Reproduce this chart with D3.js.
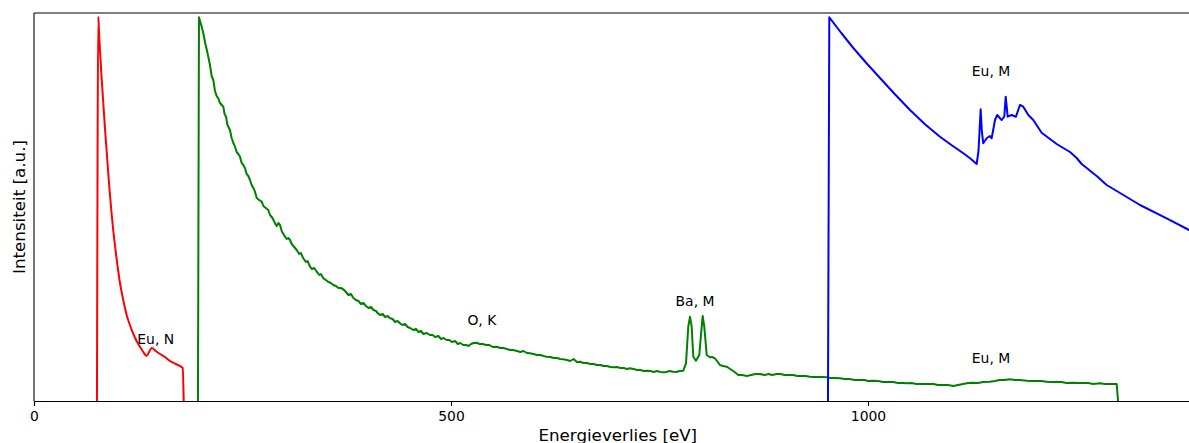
<!DOCTYPE html>
<html>
<head>
<meta charset="utf-8">
<script src="https://cdn.jsdelivr.net/npm/d3@7/dist/d3.min.js"></script>
<style>
  html, body { margin: 0; padding: 0; background: #fff; }
  svg { display: block; font-family: "DejaVu Sans", sans-serif; }
</style>
</head>
<body>
<svg id="chart" width="1189" height="443"></svg>
<script>
// ---- data (energy loss in eV, intensity in arbitrary units) ----
const xTicks = [0, 500, 1000];
const xLabel = "Energieverlies [eV]";
const yLabel = "Intensiteit [a.u.]";

const redSeries = [
  [75.5,0],[77.1,384.3],[78,368],[79.1,351],[81,324],[83.1,298],[85,274],[87.2,249],[89,228],[91.1,206],
  [93,188],[95.1,170],[97,156],[99.2,141],[101,130],[103.1,118],[107,101],[111.1,86],[115,76],
  [119.1,67],[123,60],[127.1,54],[131,49],[135.1,45],[138,49],[141.1,53],[146,50],[151.1,47],
  [157,44],[163.1,40],[170,37],[178.3,33],[179.5,0]
];

const greenSeries = [
  [196.6,0],[197.8,383.7],[200.5,376],[203.0,367.7],[205.5,357],[207,352],[209.0,344.3],[211,336],
  [213,325],[215.0,321],[217,310],[219,305],[221.0,302.7],[223,298],[225,296],[227.0,294.3],
  [228.5,287],[230.2,284.3],[232,276],[235.0,271],[237,263],[239,258],[241.0,254.3],[243,249],
  [245,247],[247.0,244.3],[249,238],[251,236],[253.0,232.7],[255,227],[257,225],[259.0,221],
  [261,216],[263,213],[265.0,209.3],[267,203],[270,201],[273.0,199.3],[275,195],[278,193],
  [280.9,191],[283,186],[286,183],[289.0,177.7],[291,175],[293,178],[295.0,176],[297,170],
  [299,167],[301.0,164.3],[303,162],[305,163],[307.0,161],[309,157],[312,154],[315.0,151],
  [318,147],[320,148],[322.9,142.7],[326,139],[328,140],[330.9,134.3],[333,132],[336,133],
  [339.0,129.3],[342,126],[344,127],[346.9,122.7],[350,121],[353,119],[356,118],[358.9,116],
  [362,115],[365,113],[368,113],[370.9,111.7],[374,109],[377,106],[380,107],[383,103],[386,101],
  [389,100],[392,97],[395,98],[398,95],[401,93],[404,94],[407,91],[410,90],[412,88],[414.9,86],
  [418,87],[421,84],[424,85],[426.9,82.7],[430,82],[433,79],[436,80],[438.8,77.7],[442,76],
  [445,77],[448,74],[451,73],[454.8,71],[458,72],[461,69],[464,70],[467,67],[471,68],[474.8,66],
  [478,66],[481,64],[485,65],[488,62],[491,63],[494.8,61],[498,61],[501,59],[505,60],[508,57],
  [511,58],[514.7,56],[518,56],[521,55],[524,57],[527,58],[530.8,58.3],[534,57],[538,57],
  [542,56],[546,56],[550,54],[554.8,54.3],[559,53],[563,53],[567,52],[571,51],[574.7,51],
  [579,50],[583,49],[587,50],[591,48],[594.7,47.7],[599,47],[603,46],[607,46],[611,45],
  [614.7,44.3],[619,44],[623,43],[627,43],[631,42],[634.6,41.7],[639,41],[643,40],[647,42],
  [651,39],[654.7,39.3],[659,38],[663,38],[667,37],[671,37],[674.7,36],[679,36],[683,35],
  [687,35],[691,34],[694.6,33.7],[699,34],[703,33],[707,33],[711,32],[714.6,32.7],[719,32],
  [723,31],[727,31],[731,30],[734.6,30.3],[739,30],[743,29],[747,30],[751,29],[754.6,28.7],
  [758,29],[762,30],[766.5,29.3],[770,29],[774,30],[778.5,30.3],[781.8,37.7],[784.5,74.3],
  [786.6,84.3],[788.6,74.3],[790.5,44.3],[793.7,40.3],[797.7,46],[800.6,74.3],[801.8,85],
  [803.7,74.3],[806.6,46],[810.5,43.7],[813,44],[816.5,42.7],[819,40],[822.5,36],[826,35],
  [830.6,34.3],[833,33],[836.5,31],[840,29],[844.5,26],[849,26],[854.5,25],[860,26],[865,27],
  [870.5,27],[876,26],[881,27],[885,26],[890.5,27],[895,27],[900,26],[905,26],[910.4,26],
  [915,25],[920,25],[925,25],[930.4,24.3],[935,24],[940,24],[945,24],[950.5,23.7],[955,23],
  [960,23],[966.4,22.7],[972,22],[978,22],[984,21],[990,21],[996,21],[1000,20],[1006.4,20.3],
  [1012,20],[1018,19],[1024,19],[1030,19],[1036,18],[1042,18],[1046.4,17.7],[1052,18],[1058,17],
  [1064,17],[1070,17],[1078.3,17],[1084,16],[1090,16],[1096,16],[1102.3,15],[1108,16],[1114,17],
  [1120,18],[1126.3,18.3],[1132,18],[1138,19],[1146.3,19.3],[1152,20],[1158,21],[1164,21],
  [1170.3,21.7],[1176,21],[1182,21],[1190.3,20.3],[1196,20],[1202,20],[1208,20],[1214.3,19.3],
  [1220,19],[1226,19],[1232,19],[1238,18],[1246.2,18.3],[1252,18],[1258,18],[1264,18],[1270,17],
  [1278.2,17.7],[1284,17],[1290,17],[1298.2,17],[1299.8,0]
];

const blueSeries = [
  [952.0,0],[953.6,383.7],[968,368],[982.4,353],[998,338],[1014.4,323],[1032,307],
  [1050.4,291],[1068,277],[1086.3,264.3],[1100,256],[1114.3,247.7],[1122,243],[1130.3,237],
  [1132.5,250],[1135.1,291.7],[1136.5,270],[1138.2,257.7],[1142.3,262.7],[1146.3,265],
  [1148.3,262.7],[1152.3,281],[1155.0,286],[1158,283],[1160.3,281],[1163.4,284.3],[1165.1,304.3],
  [1167.5,284.3],[1172.3,286],[1177.4,284.3],[1182.2,296],[1186.2,294.3],[1192.2,286],
  [1198.2,281],[1208.2,268.3],[1226.2,257],[1242.2,249],[1250.2,243],[1256.2,237],
  [1274.2,225],[1286.2,216],[1298.2,210],[1326.1,196],[1358.1,182.7],[1384.9,171],[1400,164]
];

const labelTexts = ["Eu, N", "O, K", "Ba, M", "Eu, M", "Eu, M"];
const labelX = [146, 537, 792.6, 1147.5, 1147.5];
const labelY = [62, 81, 100, 330, 43];

// ---- layout ----
const svg = d3.select("#chart");
const mLeft = 34, mTop = 13, mBottom = 401, mRight = 1201.6;

const x = d3.scaleLinear().domain([0, 1400]).range([mLeft, mRight]);
const y = d3.scaleLinear().domain([0, 388]).range([mBottom, mTop]);

svg.append("defs").append("clipPath").attr("id", "clip")
  .append("rect").attr("x", mLeft).attr("y", mTop).attr("width", mRight - mLeft).attr("height", mBottom - mTop);

const lineSmooth = d3.line().x(d => x(d[0])).y(d => y(d[1])).curve(d3.curveMonotoneX);
const lineRaw = d3.line().x(d => x(d[0])).y(d => y(d[1]));

const g = svg.append("g").attr("clip-path", "url(#clip)");
[[redSeries, "#ff0000", lineSmooth], [greenSeries, "#008000", lineRaw], [blueSeries, "#0000ff", lineRaw]].forEach(([data, col, gen]) => {
  g.append("path").datum(data)
    .attr("d", gen)
    .attr("fill", "none")
    .attr("stroke", col)
    .attr("stroke-width", 2)
    .attr("stroke-linejoin", "round")
    .attr("stroke-linecap", "square");
});

// labels
svg.append("g").selectAll("text").data(labelTexts).join("text")
  .attr("x", (d, i) => x(labelX[i]))
  .attr("y", (d, i) => y(labelY[i]))
  .attr("text-anchor", "middle")
  .attr("dominant-baseline", "central")
  .attr("font-size", "13.9px")
  .attr("fill", "#000")
  .text(d => d);

// spines
const frame = svg.append("g").attr("stroke", "#000").attr("stroke-width", 1.1).attr("fill", "none");
frame.append("line").attr("x1", mLeft).attr("x2", mLeft).attr("y1", mTop).attr("y2", mBottom);
frame.append("line").attr("x1", mLeft).attr("x2", mRight).attr("y1", mTop).attr("y2", mTop);
frame.append("line").attr("x1", mRight).attr("x2", mRight).attr("y1", mTop).attr("y2", mBottom);

// x axis
const xAxis = d3.axisBottom(x).tickValues(xTicks).tickSize(4.9).tickPadding(4.9).tickFormat(d3.format("d"));
const ax = svg.append("g").attr("transform", `translate(0,${mBottom})`).call(xAxis);
ax.select(".domain").attr("stroke", "#000").attr("stroke-width", 1.1);
ax.selectAll(".tick line").attr("stroke", "#000").attr("stroke-width", 1.1);
ax.selectAll(".tick text").attr("font-size", "13.9px").attr("font-family", "DejaVu Sans, sans-serif").attr("fill", "#000");

// axis labels
svg.append("text")
  .attr("x", (mLeft + mRight) / 2).attr("y", 441)
  .attr("text-anchor", "middle")
  .attr("font-size", "16.7px")
  .attr("fill", "#000")
  .text(xLabel);

svg.append("text")
  .attr("transform", `translate(25,${(mTop + mBottom) / 2}) rotate(-90)`)
  .attr("text-anchor", "middle")
  .attr("font-size", "16.7px")
  .attr("fill", "#000")
  .text(yLabel);
</script>
</body>
</html>
